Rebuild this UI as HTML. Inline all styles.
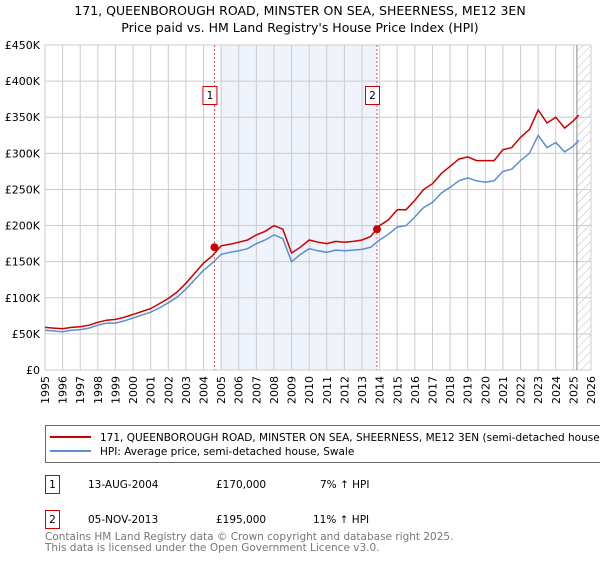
<!DOCTYPE html>
<html><head><meta charset="utf-8"><style>
body{margin:0;background:#fff;font-family:"Liberation Sans","DejaVu Sans",sans-serif}
svg text{font-family:"DejaVu Sans","Liberation Sans",sans-serif}
</style></head><body>
<svg id="c" width="600" height="560" xmlns="http://www.w3.org/2000/svg">
<defs><pattern id="hatch" width="6" height="6" patternUnits="userSpaceOnUse" patternTransform="rotate(45)"><line x1="0" y1="0" x2="0" y2="6" stroke="#bbb" stroke-width="1"/></pattern></defs>
<text x="300" y="15" text-anchor="middle" font-size="12.5">171, QUEENBOROUGH ROAD, MINSTER ON SEA, SHEERNESS, ME12 3EN</text>
<text x="300" y="32" text-anchor="middle" font-size="12.5">Price paid vs. HM Land Registry's House Price Index (HPI)</text>
<g id="plot"></g>
<rect x="45.5" y="425.5" width="570" height="37" fill="#fff" stroke="#666"/>
<line x1="50" y1="437" x2="91" y2="437" stroke="#cc0000" stroke-width="2"/>
<text x="100" y="441" font-size="10.5">171, QUEENBOROUGH ROAD, MINSTER ON SEA, SHEERNESS, ME12 3EN (semi-detached house)</text>
<line x1="50" y1="451" x2="91" y2="451" stroke="#5b8fd1" stroke-width="2"/>
<text x="100" y="455" font-size="10.5">HPI: Average price, semi-detached house, Swale</text>
<g font-size="10.5">
<rect x="45.5" y="475.5" width="14" height="18" fill="#fff" stroke="#cc0000"/>
<text x="52.5" y="488" text-anchor="middle">1</text>
<text x="88" y="488">13-AUG-2004</text>
<text x="216" y="488">£170,000</text>
<text x="320" y="488">7% ↑ HPI</text>
<rect x="45.5" y="510.5" width="14" height="18" fill="#fff" stroke="#cc0000"/>
<text x="52.5" y="523" text-anchor="middle">2</text>
<text x="88" y="523">05-NOV-2013</text>
<text x="216" y="523">£195,000</text>
<text x="313" y="523">11% ↑ HPI</text>
</g>
<text x="45" y="540" font-size="10.5" fill="#777">Contains HM Land Registry data © Crown copyright and database right 2025.</text>
<text x="45" y="551" font-size="10.5" fill="#777">This data is licensed under the Open Government Licence v3.0.</text>
</svg>
<script>
const years=[1995,1995.5,1996,1996.5,1997,1997.5,1998,1998.5,1999,1999.5,2000,2000.5,2001,2001.5,2002,2002.5,2003,2003.5,2004,2004.5,2005,2005.5,2006,2006.5,2007,2007.5,2008,2008.5,2009,2009.5,2010,2010.5,2011,2011.5,2012,2012.5,2013,2013.5,2014,2014.5,2015,2015.5,2016,2016.5,2017,2017.5,2018,2018.5,2019,2019.5,2020,2020.5,2021,2021.5,2022,2022.5,2023,2023.5,2024,2024.5,2025,2025.3];
const hpiValues=[55,54,53,55,56,58,62,65,65,68,72,76,80,86,93,101,112,125,138,148,160,163,165,168,175,180,187,182,150,160,168,165,163,166,165,166,167,170,180,188,198,200,212,225,232,245,253,262,266,262,260,262,275,278,290,300,325,308,315,302,310,318];
const priceValues=[59,58,57,59,60,62,66,69,70,73,77,81,85,92,99,108,120,134,148,158,172,174,177,180,187,192,200,195,162,170,180,177,175,178,177,178,180,185,200,208,222,222,235,250,258,272,282,292,295,290,290,290,305,308,322,333,360,342,350,335,345,353];
const saleYears=[2004.62,2013.85];
const salePrices=[170,195];
const saleLabels=["1","2"];
const yTicks=[0,50,100,150,200,250,300,350,400,450];
const yTickLabels=["£0","£50K","£100K","£150K","£200K","£250K","£300K","£350K","£400K","£450K"];
const xTicks=[];for(let y=1995;y<=2026;y++)xTicks.push(y);

const X0=45,X1=591,Y0=370,Y1=45;
const xs=y=>X0+(y-1995)/31*(X1-X0);
const ys=v=>Y0-v/450*(Y0-Y1);
const NS="http://www.w3.org/2000/svg";
const g=document.getElementById('plot');
function mk(t,a){const e=document.createElementNS(NS,t);for(const k in a)e.setAttribute(k,a[k]);g.appendChild(e);return e;}
let e;
e=mk('rect',{x:xs(2005),y:Y1,width:xs(saleYears[1])-xs(2005),height:Y0-Y1,fill:'#eef3fc'});


e=mk('rect',{x:xs(2025.2),y:Y1,width:X1-xs(2025.2),height:Y0-Y1,fill:'url(#hatch)'});


xTicks.forEach((y,i)=>{
 e=mk('line',{x1:xs(y),x2:xs(y),y1:Y1,y2:Y0,stroke:'#ccc'});
 
 
 e=mk('text',{x:0,y:0,'font-size':11,'text-anchor':'end',transform:`translate(${xs(y)+4},${Y0+6}) rotate(-90)`});
 e.textContent=y;
 
 
});
yTicks.forEach((v,i)=>{
 e=mk('line',{x1:X0,x2:X1,y1:ys(v),y2:ys(v),stroke:'#ccc'});
 
 
 e=mk('text',{x:X0-5,y:ys(v)+4,'font-size':11,'text-anchor':'end'});
 e.textContent=yTickLabels[i];
 
 
});
e=mk('line',{x1:xs(2025.2),x2:xs(2025.2),y1:Y1,y2:Y0,stroke:'#888'});


e=mk('line',{x1:X0,x2:X0,y1:Y1,y2:Y0,stroke:'#ccc'});


saleYears.forEach((y,i)=>{
 e=mk('line',{x1:xs(y),x2:xs(y),y1:Y1,y2:Y0,stroke:'#e05555','stroke-dasharray':'2,2'});
 
 
 e=mk('rect',{x:xs(y)-11.5,y:86.5,width:14,height:18,fill:'#fff',stroke:'#cc0000'});
 
 
 e=mk('text',{x:xs(y)-4.5,y:99,'font-size':10.5,'text-anchor':'middle'});
 e.textContent=saleLabels[i];
 
 
});
const path=vals=>vals.map((v,i)=>(i?'L':'M')+xs(years[i]).toFixed(1)+','+ys(v).toFixed(1)).join('');
e=mk('path',{d:path(hpiValues),fill:'none',stroke:'#5b8fd1','stroke-width':1.5});


e=mk('path',{d:path(priceValues),fill:'none',stroke:'#cc0000','stroke-width':1.5});


saleYears.forEach((y,i)=>{
 e=mk('circle',{cx:xs(y),cy:ys(salePrices[i]),r:4,fill:'#cc0000'});
 
 
});
</script>
</body></html>
